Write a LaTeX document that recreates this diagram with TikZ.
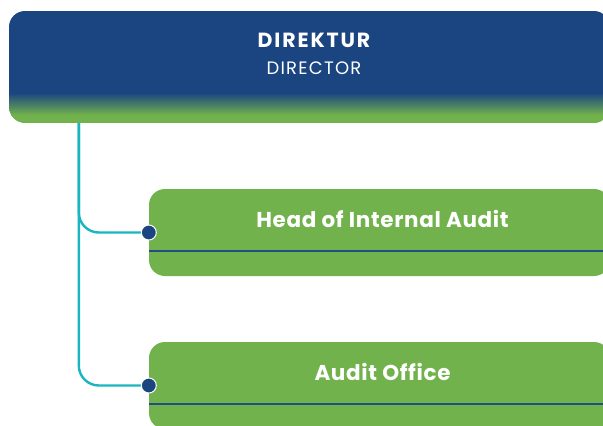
\documentclass[tikz,border=0pt]{standalone}
\usepackage{fontspec}
\setmainfont{Poppins}
\usetikzlibrary{positioning}

\definecolor{navy}{RGB}{27,69,128}
\definecolor{leaf}{RGB}{114,178,76}
\definecolor{teal}{RGB}{25,181,193}
\definecolor{stripe}{RGB}{31,78,131}

\tikzset{
	unit/.style={rectangle,rounded corners=16pt,fill=leaf,minimum width=461pt,minimum height=87pt,
		path picture={\draw[stripe,line width=2.2pt,sharp corners] ([yshift=25pt]path picture bounding box.south west) -- ([yshift=25pt]path picture bounding box.south east);}},
	unittitle/.style={anchor=base,text=white,font=\fontsize{21.5}{25}\selectfont\bfseries\addfontfeature{LetterSpace=3}},
	link/.style={teal,line width=2.4pt,rounded corners=20pt},
	joint/.style={circle,fill=navy,draw=white,line width=1pt,minimum size=15pt,inner sep=0pt}
}

\def\director{
	\path (309.5,67) node(director) [rectangle,rounded corners=16pt,minimum width=601pt,minimum height=112pt,
		path picture={
			\fill[navy,sharp corners] (path picture bounding box.north west) rectangle ([yshift=29.8pt]path picture bounding box.south east);
			\shade[top color=navy,bottom color=leaf,sharp corners] ([yshift=30pt]path picture bounding box.south west) rectangle ([yshift=8pt]path picture bounding box.south east);
			\fill[leaf,sharp corners] ([yshift=8.2pt]path picture bounding box.south west) rectangle (path picture bounding box.south east);
		}] {};
	\node(directortitle) [anchor=base,text=white,font=\fontsize{20.5}{24}\selectfont\bfseries\addfontfeature{LetterSpace=9}]
		at ([xshift=4.5pt,yshift=19.3pt]director.center) {DIREKTUR};
	\node(directorsub) [anchor=base,text=white,font=\fontsize{18}{22}\selectfont\addfontfeature{LetterSpace=7}]
		at ([xshift=4.5pt,yshift=-7pt]director.center) {DIRECTOR};
}
\def\units{
	\path (379.5,232.5) node(head) [unit] {}
			(379.5,385.5) node(office) [unit] {};
	\node(headtitle) [unittitle] at ([xshift=3pt,yshift=5.3pt]head.center) {Head of Internal Audit};
	\node(officetitle) [unittitle] at ([xshift=3pt,yshift=5.3pt]office.center) {Audit Office};
}

\begin{document}
\begin{tikzpicture}[x=1pt,y=-1pt]
\useasboundingbox (0,0) rectangle (603,426);
\director
\units
\coordinate (trunk) at ([xshift=70pt]director.south west);
\draw[link] (trunk) |- (head.west);
\draw[link] (trunk) |- (office.west);
\node(headjoint) [joint] at (head.west) {};
\node(officejoint) [joint] at (office.west) {};
\end{tikzpicture}
\end{document}
